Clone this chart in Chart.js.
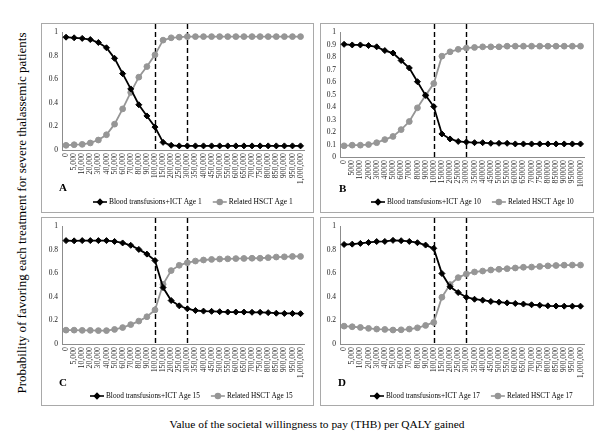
<!DOCTYPE html>
<html><head><meta charset="utf-8">
<script src="https://cdn.jsdelivr.net/npm/chart.js@4/dist/chart.umd.min.js"></script>
<style>
html,body{margin:0;padding:0;background:#fff;}
body{width:600px;height:447px;position:relative;overflow:hidden;font-family:"Liberation Serif","Times New Roman",serif;color:#000;}
.panel{position:absolute;outline:1px solid #a9a9a9;}
.panel canvas{position:absolute;left:0;top:0;}
#ytitle{position:absolute;left:22px;top:213px;transform:translate(-50%,-50%) rotate(-90deg);white-space:nowrap;font-size:13px;}
#xtitle{position:absolute;left:317px;top:424px;transform:translate(-50%,-50%);white-space:nowrap;font-size:11.4px;}
</style></head><body>
<div id="ytitle">Probability of favoring each treatment for severe thalassemic patients</div>
<div id="xtitle">Value of the societal willingness to pay (THB) per QALY gained</div>
<div class="panel" id="pA" style="left:42px;top:24px;width:271px;height:188px"><canvas id="cA" width="271" height="188"></canvas></div>
<div class="panel" id="pB" style="left:321px;top:24px;width:272px;height:188px"><canvas id="cB" width="272" height="188"></canvas></div>
<div class="panel" id="pC" style="left:42px;top:218px;width:271px;height:187px"><canvas id="cC" width="271" height="187"></canvas></div>
<div class="panel" id="pD" style="left:321px;top:218px;width:272px;height:187px"><canvas id="cD" width="272" height="187"></canvas></div>
<script>
// ---- data ----
const wtpValues = [0,5000,10000,20000,30000,40000,50000,60000,70000,80000,90000,100000,150000,200000,250000,300000,350000,400000,450000,500000,550000,600000,650000,700000,750000,800000,850000,900000,950000,1000000];
const wtpLabelsComma = ["0","5,000","10,000","20,000","30,000","40,000","50,000","60,000","70,000","80,000","90,000","100,000","150,000","200,000","250,000","300,000","350,000","400,000","450,000","500,000","550,000","600,000","650,000","700,000","750,000","800,000","850,000","900,000","950,000","1,000,000"];
const wtpLabelsPlain = ["0","5000","10000","20000","30000","40000","50000","60000","70000","80000","90000","100000","150000","200000","250000","300000","350000","400000","450000","500000","550000","600000","650000","700000","750000","800000","850000","900000","950000","1000000"];
const thresholdValues = [100000, 300000];
const yTickValues = [0,0.1,0.2,0.3,0.4,0.5,0.6,0.7,0.8,0.9,1];

const ictAge1  = [0.96,0.955,0.95,0.94,0.915,0.87,0.78,0.65,0.52,0.385,0.29,0.195,0.065,0.04,0.035,0.035,0.035,0.035,0.035,0.035,0.035,0.035,0.035,0.035,0.035,0.035,0.035,0.035,0.035,0.035];
const hsctAge1 = [0.04,0.045,0.048,0.06,0.085,0.13,0.22,0.35,0.49,0.62,0.71,0.81,0.935,0.955,0.96,0.965,0.965,0.965,0.965,0.965,0.965,0.965,0.965,0.965,0.965,0.965,0.965,0.965,0.965,0.965];
const ictAge10  = [0.905,0.9,0.9,0.895,0.885,0.855,0.835,0.775,0.715,0.605,0.495,0.405,0.185,0.145,0.125,0.12,0.115,0.115,0.11,0.11,0.11,0.105,0.105,0.105,0.105,0.105,0.105,0.105,0.105,0.105];
const hsctAge10 = [0.09,0.095,0.095,0.1,0.115,0.14,0.165,0.22,0.285,0.395,0.495,0.59,0.81,0.845,0.865,0.875,0.88,0.885,0.885,0.885,0.89,0.89,0.89,0.89,0.89,0.89,0.89,0.89,0.89,0.89];
const ictAge15  = [0.88,0.878,0.88,0.88,0.88,0.88,0.873,0.86,0.84,0.805,0.765,0.71,0.48,0.37,0.325,0.3,0.285,0.28,0.278,0.275,0.272,0.272,0.272,0.27,0.27,0.267,0.262,0.26,0.26,0.258];
const hsctAge15 = [0.118,0.118,0.116,0.116,0.114,0.114,0.124,0.14,0.165,0.195,0.232,0.29,0.508,0.625,0.67,0.692,0.706,0.715,0.72,0.723,0.725,0.727,0.728,0.73,0.73,0.735,0.74,0.742,0.745,0.745];
const ictAge17  = [0.847,0.85,0.856,0.864,0.872,0.873,0.882,0.879,0.873,0.862,0.842,0.814,0.6,0.487,0.438,0.398,0.381,0.373,0.362,0.356,0.35,0.345,0.34,0.334,0.33,0.325,0.323,0.322,0.322,0.322];
const hsctAge17 = [0.152,0.147,0.141,0.133,0.127,0.124,0.119,0.121,0.127,0.138,0.158,0.184,0.398,0.506,0.565,0.596,0.613,0.621,0.63,0.636,0.641,0.647,0.653,0.655,0.66,0.665,0.668,0.671,0.672,0.672];

// ---- drawing ----
const SERIF = '"Liberation Serif","Times New Roman",serif';
const BLACK = '#000000', GREY = '#969696';

const overlay = {
  id: 'overlay',
  beforeDatasetsDraw(chart, args, o) {
    const {ctx, chartArea, scales} = chart;
    ctx.save();
    ctx.strokeStyle = '#000'; ctx.lineWidth = 1.4; ctx.setLineDash([5, 3]);
    thresholdValues.forEach(v => {
      const i = wtpValues.indexOf(v);
      const px = Math.round(scales.x.getPixelForValue(i)) + 0.5;
      ctx.beginPath(); ctx.moveTo(px, 0); ctx.lineTo(px, chartArea.bottom); ctx.stroke();
    });
    ctx.restore();
  },
  afterDraw(chart, args, o) {
    const ctx = chart.ctx;
    ctx.save();
    ctx.fillStyle = '#000';
    ctx.font = 'bold 11px ' + SERIF;
    ctx.textBaseline = 'middle'; ctx.textAlign = 'left';
    ctx.fillText(o.letter, o.letterX, o.letterY);
    // legend
    let x = o.legendX;
    const y = o.legendY;
    ctx.font = o.legendFont + 'px ' + SERIF;
    chart.data.datasets.forEach((ds, k) => {
      ctx.strokeStyle = ds.borderColor; ctx.lineWidth = 1.6; ctx.setLineDash([]);
      ctx.beginPath(); ctx.moveTo(x, y); ctx.lineTo(x + 14, y); ctx.stroke();
      ctx.fillStyle = ds.pointBackgroundColor; ctx.strokeStyle = ds.pointBorderColor;
      Chart.helpers.drawPoint(ctx, {pointStyle: ds.pointStyle, radius: ds.pointRadius * 0.85, rotation: 0, borderWidth: 1}, x + 7, y);
      ctx.fillStyle = '#000';
      ctx.fillText(ds.label, x + 16, y + 0.5);
      x += 16 + ctx.measureText(ds.label).width + o.legendGap;
    });
    ctx.restore();
  }
};

function makePanel(id, labels, ict, hsct, age, g) {
  const H = g.h, W = g.w;
  const padBottom = 22;
  new Chart(document.getElementById(id), {
    type: 'line',
    data: {
      labels: labels,
      datasets: [
        {label: 'Blood transfusions+ICT Age ' + age, data: ict, borderColor: BLACK, backgroundColor: BLACK,
         pointBackgroundColor: BLACK, pointBorderColor: BLACK, pointStyle: 'rectRot', pointRadius: 3, pointBorderWidth: 1,
         borderWidth: 1.8, tension: 0, fill: false},
        {label: 'Related HSCT Age ' + age, data: hsct, borderColor: GREY, backgroundColor: GREY,
         pointBackgroundColor: GREY, pointBorderColor: GREY, pointStyle: 'circle', pointRadius: 2.9, pointBorderWidth: 1,
         borderWidth: 1.8, tension: 0, fill: false}
      ]
    },
    options: {
      responsive: false, animation: false, devicePixelRatio: 1,
      layout: {padding: {left: 0, top: g.top, right: W - g.right, bottom: padBottom}},
      plugins: {
        legend: {display: false}, tooltip: {enabled: false},
        overlay: {letter: g.letter, letterX: g.letterX, letterY: g.letterY, legendX: g.legendX, legendY: g.legendY, legendGap: g.gap, legendFont: g.lf}
      },
      scales: {
        x: {
          type: 'category', offset: true,
          grid: {display: false, drawTicks: false},
          border: {display: true, color: '#8c8c8c', width: 1},
          ticks: {autoSkip: false, maxRotation: 90, minRotation: 90, padding: 3, color: '#222',
                  font: {family: SERIF, size: 7.8}},
          afterFit: s => { s.height = H - g.bottom - padBottom; }
        },
        y: {
          min: 0, max: 1,
          afterBuildTicks: s => { s.ticks = yTickValues.map(v => ({value: v})); },
          grid: {display: false, drawTicks: false},
          border: {display: true, color: '#8c8c8c', width: 1},
          ticks: {padding: 4, color: '#222', font: {family: SERIF, size: 7.5},
                  callback: v => String(Math.round(v * 10) / 10)},
          afterFit: s => { s.width = g.left; }
        }
      }
    },
    plugins: [overlay]
  });
}

makePanel('cA', wtpLabelsComma, ictAge1, hsctAge1, 1,
  {w: 271, h: 188, left: 20, right: 265, top: 8, bottom: 126, letter: 'A', letterX: 17, letterY: 164, legendX: 51, legendY: 178, lf: 7.5, gap: 11});
makePanel('cB', wtpLabelsPlain, ictAge10, hsctAge10, 10,
  {w: 272, h: 188, left: 19, right: 264, top: 8, bottom: 133, letter: 'B', letterX: 18, letterY: 165, legendX: 50, legendY: 178, lf: 7.3, gap: 11});
makePanel('cC', wtpLabelsComma, ictAge15, hsctAge15, 15,
  {w: 271, h: 187, left: 20, right: 265, top: 8, bottom: 126, letter: 'C', letterX: 17, letterY: 165, legendX: 48, legendY: 178, lf: 7.3, gap: 11});
makePanel('cD', wtpLabelsComma, ictAge17, hsctAge17, 17,
  {w: 272, h: 187, left: 19, right: 264, top: 8, bottom: 126, letter: 'D', letterX: 17, letterY: 165, legendX: 49, legendY: 178, lf: 7.3, gap: 11});
</script>
</body></html>
